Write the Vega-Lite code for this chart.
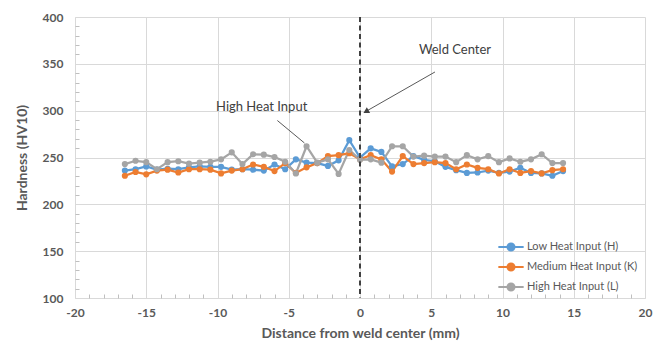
{
  "$schema": "https://vega.github.io/schema/vega-lite/v6.json",
  "width": 570,
  "height": 281,
  "autosize": "none",
  "padding": {"left": 75, "top": 17, "right": 18, "bottom": 51},
  "background": "white",
  "config": {
    "view": {"stroke": null},
    "font": "Lato",
    "axis": {
      "labelColor": "#595959",
      "titleColor": "#595959",
      "labelFont": "Lato",
      "titleFont": "Lato",
      "labelFontSize": 12,
      "labelFontWeight": "bold",
      "titleFontSize": 14,
      "titleFontWeight": "bold",
      "gridColor": "#D9D9D9",
      "domainColor": "#D9D9D9",
      "tickColor": "#BFBFBF",
      "labelOverlap": false
    }
  },
  "resolve": {"axis": {"x": "independent", "y": "independent"}},
  "datasets": {
    "hv": [
      {"series": "Low Heat Input (H)", "x": -16.5, "hv": 236},
      {"series": "Low Heat Input (H)", "x": -15.75, "hv": 237.5},
      {"series": "Low Heat Input (H)", "x": -15, "hv": 240.5},
      {"series": "Low Heat Input (H)", "x": -14.25, "hv": 237},
      {"series": "Low Heat Input (H)", "x": -13.5, "hv": 238},
      {"series": "Low Heat Input (H)", "x": -12.75, "hv": 237.5},
      {"series": "Low Heat Input (H)", "x": -12, "hv": 239.5},
      {"series": "Low Heat Input (H)", "x": -11.25, "hv": 240.5},
      {"series": "Low Heat Input (H)", "x": -10.5, "hv": 240},
      {"series": "Low Heat Input (H)", "x": -9.75, "hv": 240},
      {"series": "Low Heat Input (H)", "x": -9, "hv": 237},
      {"series": "Low Heat Input (H)", "x": -8.25, "hv": 237.5},
      {"series": "Low Heat Input (H)", "x": -7.5, "hv": 237},
      {"series": "Low Heat Input (H)", "x": -6.75, "hv": 236},
      {"series": "Low Heat Input (H)", "x": -6, "hv": 242.5},
      {"series": "Low Heat Input (H)", "x": -5.25, "hv": 237.5},
      {"series": "Low Heat Input (H)", "x": -4.5, "hv": 248},
      {"series": "Low Heat Input (H)", "x": -3.75, "hv": 244.5},
      {"series": "Low Heat Input (H)", "x": -3, "hv": 244},
      {"series": "Low Heat Input (H)", "x": -2.25, "hv": 241},
      {"series": "Low Heat Input (H)", "x": -1.5, "hv": 247},
      {"series": "Low Heat Input (H)", "x": -0.75, "hv": 268.5},
      {"series": "Low Heat Input (H)", "x": 0, "hv": 250},
      {"series": "Low Heat Input (H)", "x": 0.75, "hv": 259.8},
      {"series": "Low Heat Input (H)", "x": 1.5, "hv": 256},
      {"series": "Low Heat Input (H)", "x": 2.25, "hv": 240.5},
      {"series": "Low Heat Input (H)", "x": 3, "hv": 243},
      {"series": "Low Heat Input (H)", "x": 3.75, "hv": 251.5},
      {"series": "Low Heat Input (H)", "x": 4.5, "hv": 247.5},
      {"series": "Low Heat Input (H)", "x": 5.25, "hv": 246},
      {"series": "Low Heat Input (H)", "x": 6, "hv": 240},
      {"series": "Low Heat Input (H)", "x": 6.75, "hv": 236.5},
      {"series": "Low Heat Input (H)", "x": 7.5, "hv": 233.5},
      {"series": "Low Heat Input (H)", "x": 8.25, "hv": 234},
      {"series": "Low Heat Input (H)", "x": 9, "hv": 236},
      {"series": "Low Heat Input (H)", "x": 9.75, "hv": 233.5},
      {"series": "Low Heat Input (H)", "x": 10.5, "hv": 235},
      {"series": "Low Heat Input (H)", "x": 11.25, "hv": 239},
      {"series": "Low Heat Input (H)", "x": 12, "hv": 233.5},
      {"series": "Low Heat Input (H)", "x": 12.75, "hv": 233},
      {"series": "Low Heat Input (H)", "x": 13.5, "hv": 230.5},
      {"series": "Low Heat Input (H)", "x": 14.25, "hv": 235.5},
      {"series": "Medium Heat Input (K)", "x": -16.5, "hv": 230.5},
      {"series": "Medium Heat Input (K)", "x": -15.75, "hv": 234.5},
      {"series": "Medium Heat Input (K)", "x": -15, "hv": 232},
      {"series": "Medium Heat Input (K)", "x": -14.25, "hv": 236},
      {"series": "Medium Heat Input (K)", "x": -13.5, "hv": 237},
      {"series": "Medium Heat Input (K)", "x": -12.75, "hv": 234},
      {"series": "Medium Heat Input (K)", "x": -12, "hv": 237.5},
      {"series": "Medium Heat Input (K)", "x": -11.25, "hv": 237.5},
      {"series": "Medium Heat Input (K)", "x": -10.5, "hv": 237},
      {"series": "Medium Heat Input (K)", "x": -9.75, "hv": 233},
      {"series": "Medium Heat Input (K)", "x": -9, "hv": 236},
      {"series": "Medium Heat Input (K)", "x": -8.25, "hv": 237.5},
      {"series": "Medium Heat Input (K)", "x": -7.5, "hv": 242.5},
      {"series": "Medium Heat Input (K)", "x": -6.75, "hv": 240},
      {"series": "Medium Heat Input (K)", "x": -6, "hv": 235.5},
      {"series": "Medium Heat Input (K)", "x": -5.25, "hv": 244},
      {"series": "Medium Heat Input (K)", "x": -4.5, "hv": 233.5},
      {"series": "Medium Heat Input (K)", "x": -3.75, "hv": 239.5},
      {"series": "Medium Heat Input (K)", "x": -3, "hv": 244},
      {"series": "Medium Heat Input (K)", "x": -2.25, "hv": 251.5},
      {"series": "Medium Heat Input (K)", "x": -1.5, "hv": 252.5},
      {"series": "Medium Heat Input (K)", "x": -0.75, "hv": 254.5},
      {"series": "Medium Heat Input (K)", "x": 0, "hv": 248},
      {"series": "Medium Heat Input (K)", "x": 0.75, "hv": 252.5},
      {"series": "Medium Heat Input (K)", "x": 1.5, "hv": 248},
      {"series": "Medium Heat Input (K)", "x": 2.25, "hv": 235},
      {"series": "Medium Heat Input (K)", "x": 3, "hv": 251.5},
      {"series": "Medium Heat Input (K)", "x": 3.75, "hv": 243},
      {"series": "Medium Heat Input (K)", "x": 4.5, "hv": 244},
      {"series": "Medium Heat Input (K)", "x": 5.25, "hv": 245},
      {"series": "Medium Heat Input (K)", "x": 6, "hv": 244},
      {"series": "Medium Heat Input (K)", "x": 6.75, "hv": 237.5},
      {"series": "Medium Heat Input (K)", "x": 7.5, "hv": 242.5},
      {"series": "Medium Heat Input (K)", "x": 8.25, "hv": 239},
      {"series": "Medium Heat Input (K)", "x": 9, "hv": 237.5},
      {"series": "Medium Heat Input (K)", "x": 9.75, "hv": 233},
      {"series": "Medium Heat Input (K)", "x": 10.5, "hv": 237.5},
      {"series": "Medium Heat Input (K)", "x": 11.25, "hv": 233.5},
      {"series": "Medium Heat Input (K)", "x": 12, "hv": 235.5},
      {"series": "Medium Heat Input (K)", "x": 12.75, "hv": 233},
      {"series": "Medium Heat Input (K)", "x": 13.5, "hv": 236.5},
      {"series": "Medium Heat Input (K)", "x": 14.25, "hv": 237.5},
      {"series": "High Heat Input (L)", "x": -16.5, "hv": 243},
      {"series": "High Heat Input (L)", "x": -15.75, "hv": 246.5},
      {"series": "High Heat Input (L)", "x": -15, "hv": 245},
      {"series": "High Heat Input (L)", "x": -14.25, "hv": 237.5},
      {"series": "High Heat Input (L)", "x": -13.5, "hv": 245},
      {"series": "High Heat Input (L)", "x": -12.75, "hv": 246},
      {"series": "High Heat Input (L)", "x": -12, "hv": 243.5},
      {"series": "High Heat Input (L)", "x": -11.25, "hv": 244.5},
      {"series": "High Heat Input (L)", "x": -10.5, "hv": 245.5},
      {"series": "High Heat Input (L)", "x": -9.75, "hv": 248},
      {"series": "High Heat Input (L)", "x": -9, "hv": 255.5},
      {"series": "High Heat Input (L)", "x": -8.25, "hv": 243},
      {"series": "High Heat Input (L)", "x": -7.5, "hv": 253.5},
      {"series": "High Heat Input (L)", "x": -6.75, "hv": 253},
      {"series": "High Heat Input (L)", "x": -6, "hv": 250.5},
      {"series": "High Heat Input (L)", "x": -5.25, "hv": 245.5},
      {"series": "High Heat Input (L)", "x": -4.5, "hv": 233},
      {"series": "High Heat Input (L)", "x": -3.75, "hv": 262},
      {"series": "High Heat Input (L)", "x": -3, "hv": 244.5},
      {"series": "High Heat Input (L)", "x": -2.25, "hv": 248},
      {"series": "High Heat Input (L)", "x": -1.5, "hv": 232.5},
      {"series": "High Heat Input (L)", "x": -0.75, "hv": 258},
      {"series": "High Heat Input (L)", "x": 0, "hv": 247.5},
      {"series": "High Heat Input (L)", "x": 0.75, "hv": 248},
      {"series": "High Heat Input (L)", "x": 1.5, "hv": 244.5},
      {"series": "High Heat Input (L)", "x": 2.25, "hv": 262},
      {"series": "High Heat Input (L)", "x": 3, "hv": 262},
      {"series": "High Heat Input (L)", "x": 3.75, "hv": 251},
      {"series": "High Heat Input (L)", "x": 4.5, "hv": 252},
      {"series": "High Heat Input (L)", "x": 5.25, "hv": 251},
      {"series": "High Heat Input (L)", "x": 6, "hv": 251},
      {"series": "High Heat Input (L)", "x": 6.75, "hv": 245},
      {"series": "High Heat Input (L)", "x": 7.5, "hv": 252.5},
      {"series": "High Heat Input (L)", "x": 8.25, "hv": 248},
      {"series": "High Heat Input (L)", "x": 9, "hv": 251.5},
      {"series": "High Heat Input (L)", "x": 9.75, "hv": 245},
      {"series": "High Heat Input (L)", "x": 10.5, "hv": 249},
      {"series": "High Heat Input (L)", "x": 11.25, "hv": 245.5},
      {"series": "High Heat Input (L)", "x": 12, "hv": 248},
      {"series": "High Heat Input (L)", "x": 12.75, "hv": 253.5},
      {"series": "High Heat Input (L)", "x": 13.5, "hv": 244},
      {"series": "High Heat Input (L)", "x": 14.25, "hv": 244}
    ],
    "centerline": [{"x": 0, "y": 400, "y2": 100}],
    "leaders": [
      {"x": 5.26, "y": 341.3, "x2": 0.45, "y2": 299.5},
      {"x": -5.8, "y": 289.5, "x2": -3.9, "y2": 265.5}
    ],
    "heads": [{"x": 0.42, "y": 299, "angle": 240}],
    "notes": [
      {"x": 6.67, "y": 364.8, "text": "Weld Center"},
      {"x": -6.9, "y": 304, "text": "High Heat Input"}
    ]
  },
  "layer": [
    {
      "data": {"name": "hv"},
      "mark": {"type": "line", "strokeWidth": 2.25},
      "encoding": {
        "x": {
          "field": "x", "type": "quantitative",
          "scale": {"domain": [-20, 20], "nice": false, "zero": false},
          "axis": {
            "title": "Distance from weld center (mm)",
            "orient": "bottom",
            "values": [-20, -15, -10, -5, 0, 5, 10, 15, 20],
            "labelExpr": "replace(datum.label, '\u2212', '-')",
            "grid": true,
            "ticks": false,
            "labelPadding": 9,
            "titlePadding": 8,
            "labelFlush": false
          }
        },
        "y": {
          "field": "hv", "type": "quantitative",
          "scale": {"domain": [100, 400], "nice": false, "zero": false},
          "axis": {
            "title": "Hardness (HV10)",
            "orient": "left",
            "values": [100, 150, 200, 250, 300, 350, 400],
            "grid": true,
            "ticks": false,
            "labelPadding": 12,
            "titlePadding": 13,
            "labelFlush": false
          }
        },
        "color": {
          "field": "series", "type": "nominal",
          "scale": {
            "domain": ["Low Heat Input (H)", "Medium Heat Input (K)", "High Heat Input (L)"],
            "range": ["#5B9BD5", "#ED7D31", "#A5A5A5"]
          },
          "legend": {
            "title": null,
            "orient": "none",
            "legendX": 424,
            "legendY": 218,
            "padding": 0,
            "rowPadding": 0,
            "symbolType": "M-1.15,0H1.15M-0.32,0A0.32,0.32,0,1,1,0.32,0A0.32,0.32,0,1,1,-0.32,0Z",
            "symbolSize": 484,
            "symbolStrokeWidth": 2,
            "labelFont": "Lato",
            "labelFontSize": 11,
            "labelColor": "#595959",
            "labelOffset": 4,
            "encode": {
              "symbols": {
                "update": {
                  "fill": {"scale": "color", "field": "value"},
                  "stroke": {"scale": "color", "field": "value"},
                  "opacity": {"value": 1}
                }
              }
            }
          }
        },
        "detail": {"field": "series"}
      }
    },
    {
      "data": {"name": "hv"},
      "mark": {"type": "point", "filled": true, "size": 38, "opacity": 1},
      "encoding": {
        "x": {
          "field": "x", "type": "quantitative",
          "axis": {
            "orient": "bottom",
            "title": null,
            "labels": false,
            "grid": false,
            "domain": false,
            "values": [-19,-18,-17,-16,-14,-13,-12,-11,-9,-8,-7,-6,-4,-3,-2,-1,1,2,3,4,6,7,8,9,11,12,13,14,16,17,18,19],
            "tickSize": -4
          }
        },
        "y": {
          "field": "hv", "type": "quantitative",
          "axis": {
            "orient": "left",
            "title": null,
            "labels": false,
            "grid": false,
            "domain": false,
            "values": [110,120,130,140,160,170,180,190,210,220,230,240,260,270,280,290,310,320,330,340,360,370,380,390],
            "tickSize": -4
          }
        },
        "color": {"field": "series", "type": "nominal", "legend": null}
      }
    },
    {
      "data": {"name": "centerline"},
      "mark": {"type": "rule", "color": "#404040", "strokeWidth": 2, "strokeDash": [5, 3.5]},
      "encoding": {
        "x": {"field": "x", "type": "quantitative", "axis": null},
        "y": {"field": "y", "type": "quantitative", "axis": null},
        "y2": {"field": "y2"}
      }
    },
    {
      "data": {"name": "leaders"},
      "mark": {"type": "rule", "color": "#595959", "strokeWidth": 1},
      "encoding": {
        "x": {"field": "x", "type": "quantitative", "axis": null},
        "y": {"field": "y", "type": "quantitative", "axis": null},
        "x2": {"field": "x2"},
        "y2": {"field": "y2"}
      }
    },
    {
      "data": {"name": "heads"},
      "mark": {"type": "point", "shape": "triangle-up", "filled": true, "color": "#404040", "size": 45, "opacity": 1},
      "encoding": {
        "x": {"field": "x", "type": "quantitative", "axis": null},
        "y": {"field": "y", "type": "quantitative", "axis": null},
        "angle": {"field": "angle", "type": "quantitative", "scale": null}
      }
    },
    {
      "data": {"name": "notes"},
      "mark": {"type": "text", "font": "Lato", "fontSize": 13, "color": "#404040", "align": "center", "baseline": "middle"},
      "encoding": {
        "x": {"field": "x", "type": "quantitative", "axis": null},
        "y": {"field": "y", "type": "quantitative", "axis": null},
        "text": {"field": "text"}
      }
    }
  ]
}
